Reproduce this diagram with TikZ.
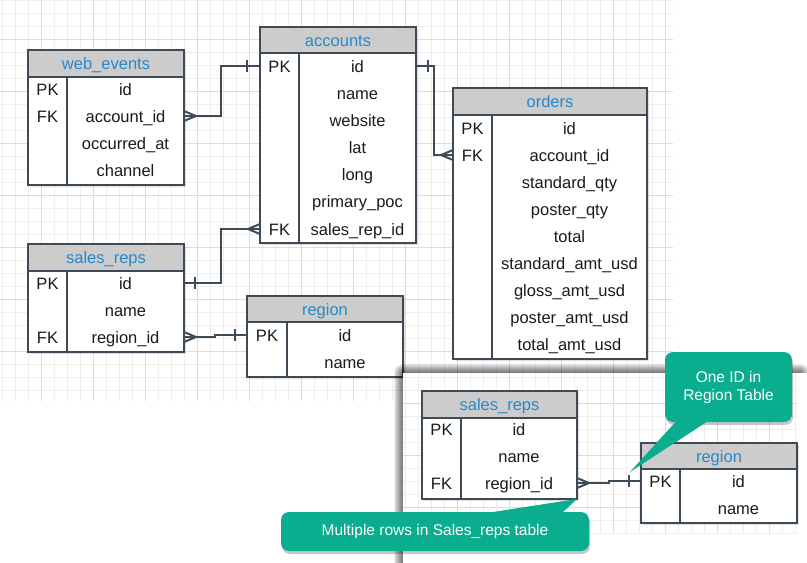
\documentclass[tikz,border=0pt]{standalone}
\usepackage{fontspec}
\setmainfont{Liberation Sans}
\usetikzlibrary{calc}
\definecolor{bordc}{HTML}{3E4A56}
\definecolor{hdrfill}{HTML}{CCCCCC}
\definecolor{hdrtext}{HTML}{2A88C8}
\definecolor{rowc}{HTML}{1A1A1A}
\definecolor{gridminor}{HTML}{EEEEEE}
\definecolor{gridmajor}{HTML}{DCDCDC}
\definecolor{callc}{HTML}{0AAD8D}
\tikzset{
  hdr/.style={draw=bordc, line width=2pt, fill=hdrfill, text=hdrtext, font=\fontsize{16.5}{19}\selectfont,
    anchor=north west, inner sep=0pt, outer sep=0pt, text height=12pt, text depth=0pt},
  bodybox/.style={draw=bordc, line width=2pt, fill=white, anchor=north west, inner sep=0pt, outer sep=0pt},
  rowt/.style={font=\fontsize{16.5}{19}\selectfont, text=rowc, text height=12pt, text depth=0pt, inner sep=0pt},
  conn/.style={draw=bordc, line width=2pt},
  tshadow/.style={fill=black, opacity=0.12},
  minorline/.style={draw=gridminor, line width=0.8pt},
  majorline/.style={draw=gridmajor, line width=1pt},
  callbox/.style={fill=callc, rounded corners=8pt, text=white, font=\fontsize{15.5}{18}\selectfont,
    align=center, inner sep=0pt, outer sep=0pt},
  callshadow/.style={fill=black, opacity=0.22, rounded corners=8pt}
}
\newcommand\ertab[8]{%
  \fill[tshadow] (#3+2,#4+2) rectangle ++(#5,#6+#7);
  \node[hdr, minimum width=#5pt, minimum height=#6pt] (#1-h) at (#3,#4) {#2};
  \node[bodybox, minimum width=#5pt, minimum height=#7pt] (#1) at (#3,#4+#6) {};
  \draw[conn] ([xshift=#8pt]#1.north west) -- ([xshift=#8pt]#1.south west);
}
\begin{document}
\begin{tikzpicture}[x=1pt,y=-1pt]
\useasboundingbox (0,0) rectangle (807,563);
\fill[white] (0,0) rectangle (807,563);
% main grid
\foreach \x in {2,15,...,673} \draw[minorline] (\x,0) -- (\x,401);
\foreach \y in {0,13,...,401} \draw[minorline] (0,\y) -- (673,\y);
\foreach \x in {41,93,...,673} \draw[majorline] (\x,0) -- (\x,401);
\foreach \y in {39,91,...,401} \draw[majorline] (0,\y) -- (673,\y);

% tables
\ertab{we}{web\_events}{28}{50}{156}{27}{108}{39}
\node[rowt] (we-pk) at (47.5,89) {PK};
\node[rowt] (we-fk) at (47.5,116) {FK};
\node[rowt] (we-id) at (125.5,89) {id};
\node[rowt] (we-acc) at (125.5,116) {account\_id};
\node[rowt] (we-occ) at (125.5,143) {occurred\_at};
\node[rowt] (we-ch) at (125.5,170) {channel};

\ertab{ac}{accounts}{260}{27}{156}{26}{190}{39}
\node[rowt] (ac-pk) at (279.5,66) {PK};
\node[rowt] (ac-fk) at (279.5,229) {FK};
\node[rowt] (ac-id) at (357.5,66) {id};
\node[rowt] (ac-name) at (357.5,93) {name};
\node[rowt] (ac-web) at (357.5,120) {website};
\node[rowt] (ac-lat) at (357.5,147) {lat};
\node[rowt] (ac-long) at (357.5,174) {long};
\node[rowt] (ac-poc) at (357.5,201) {primary\_poc};
\node[rowt] (ac-srid) at (357.5,229) {sales\_rep\_id};

\ertab{or}{orders}{453}{88}{194}{27}{244}{39}
\node[rowt] (or-pk) at (472.5,128) {PK};
\node[rowt] (or-fk) at (472.5,155) {FK};
\node[rowt] (or-id) at (569.5,128) {id};
\node[rowt] (or-acc) at (569.5,155) {account\_id};
\node[rowt] (or-sq) at (569.5,182) {standard\_qty};
\node[rowt] (or-pq) at (569.5,209) {poster\_qty};
\node[rowt] (or-tot) at (569.5,236) {total};
\node[rowt] (or-sa) at (569.5,263) {standard\_amt\_usd};
\node[rowt] (or-ga) at (569.5,290) {gloss\_amt\_usd};
\node[rowt] (or-pa) at (569.5,317) {poster\_amt\_usd};
\node[rowt] (or-ta) at (569.5,344) {total\_amt\_usd};

\ertab{sr}{sales\_reps}{28}{244}{156}{27}{81}{39}
\node[rowt] (sr-pk) at (47.5,283) {PK};
\node[rowt] (sr-fk) at (47.5,337) {FK};
\node[rowt] (sr-id) at (125.5,283) {id};
\node[rowt] (sr-name) at (125.5,310) {name};
\node[rowt] (sr-reg) at (125.5,337) {region\_id};

\ertab{rg}{region}{247}{296}{156}{26}{55}{40}
\node[rowt] (rg-pk) at (267,335) {PK};
\node[rowt] (rg-id) at (345,335) {id};
\node[rowt] (rg-name) at (345,362) {name};

% connectors (main)
\draw[conn] (we.east |- we-acc) -- ++(37,0) |- (ac.west |- ac-id);
\draw[conn] ($(we.east |- we-acc)+(0,-5)$) -- ++(12,5) -- ++(-12,5);
\draw[conn] ($(ac.west |- ac-id)+(-13,-6)$) -- ++(0,12);

\draw[conn] (ac.east |- ac-id) -- ++(18,0) |- (or.west |- or-acc);
\draw[conn] ($(ac.east |- ac-id)+(12,-6)$) -- ++(0,12);
\draw[conn] ($(or.west |- or-acc)+(0,-5)$) -- ++(-12,5) -- ++(12,5);

\draw[conn] (sr.east |- sr-id) -- ++(37,0) |- (ac.west |- ac-srid);
\draw[conn] ($(sr.east |- sr-id)+(11,-6)$) -- ++(0,12);
\draw[conn] ($(ac.west |- ac-srid)+(0,-5)$) -- ++(-12,5) -- ++(12,5);

\draw[conn] (sr.east |- sr-reg) -- ++(31,0) -- ++(0,-2) -- (rg.west |- rg-id);
\draw[conn] ($(sr.east |- sr-reg)+(0,-5)$) -- ++(12,5) -- ++(-12,5);
\draw[conn] ($(rg.west |- rg-id)+(-12,-6)$) -- ++(0,12);

% inset panel with shadow
\foreach \i in {1,...,9}
  \fill[black, opacity=0.075, rounded corners=\i pt] (403-\i,373-\i) rectangle (800+\i,563+\i);
\fill[white] (403,373) rectangle (807,563);
\foreach \x in {405,418,...,797} \draw[minorline] (\x,373) -- (\x,533);
\foreach \y in {377,390,...,533} \draw[minorline] (403,\y) -- (797,\y);
\foreach \x in {457,509,...,797} \draw[majorline] (\x,373) -- (\x,533);
\foreach \y in {403,455,507} \draw[majorline] (403,\y) -- (797,\y);

\ertab{is}{sales\_reps}{422}{391}{155}{27}{81}{39}
\node[rowt] (is-pk) at (441.5,429) {PK};
\node[rowt] (is-fk) at (441.5,483) {FK};
\node[rowt] (is-id) at (519,429) {id};
\node[rowt] (is-name) at (519,456) {name};
\node[rowt] (is-reg) at (519,483) {region\_id};

\ertab{ir}{region}{641}{443}{156}{26}{54}{39}
\node[rowt] (ir-pk) at (660.5,481) {PK};
\node[rowt] (ir-id) at (738.5,481) {id};
\node[rowt] (ir-name) at (738.5,508) {name};

\draw[conn] (is.east |- is-reg) -- ++(32,0) -- ++(0,-2) -- (ir.west |- ir-id);
\draw[conn] ($(is.east |- is-reg)+(0,-5)$) -- ++(12,5) -- ++(-12,5);
\draw[conn] ($(ir.west |- ir-id)+(-12,-6)$) -- ++(0,12);

% callouts
\fill[callshadow] (666,355) rectangle (793,425);
\node[callbox, minimum width=127pt, minimum height=70pt] (c1) at (728.5,387) {One ID in\\Region Table};
\fill[callc] ([xshift=-53pt]c1.south) -- ($(ir.west |- ir-id)+(-11,-9)$) -- ([xshift=-22pt]c1.south) -- cycle;

\fill[callshadow] (282,515) rectangle (590,554);
\node[callbox, minimum width=308pt, minimum height=39pt] (c2) at (435,531.5) {Multiple rows in Sales\_reps table};
\fill[callc] ([xshift=58pt]c2.north) -- (is.south east) -- ([xshift=128pt]c2.north) -- cycle;
\end{tikzpicture}
\end{document}
